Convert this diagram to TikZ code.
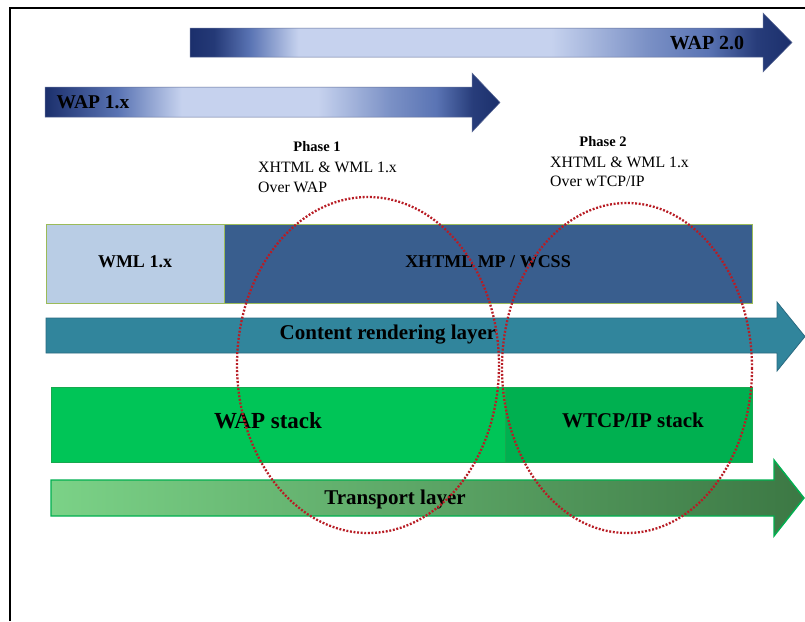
\documentclass[tikz,border=0pt]{standalone}
\usepackage{fontspec}
\setmainfont{Liberation Serif}
\usetikzlibrary{calc}

\definecolor{wapdark}{HTML}{1B2F6C}
\definecolor{wapmid}{HTML}{5A74B4}
\definecolor{waplite}{HTML}{C6D2EE}
\definecolor{wmlfill}{HTML}{B9CDE5}
\definecolor{xhtmlfill}{HTML}{395E8E}
\definecolor{boxedge}{HTML}{9BBB59}
\definecolor{contentfill}{HTML}{31859C}
\definecolor{contentedge}{HTML}{2A6A80}
\definecolor{wapgreen}{HTML}{00C557}
\definecolor{tcpgreen}{HTML}{00B050}
\definecolor{greenedge}{HTML}{17A94E}
\definecolor{translite}{HTML}{7BD287}
\definecolor{transdark}{HTML}{3C7844}
\definecolor{ringred}{HTML}{B81C24}

% horizontal bands: the path spans 25bp..75bp of each shading
\pgfdeclarehorizontalshading{wapTwoBand}{100bp}{%
  color(0bp)=(wapdark); color(25bp)=(wapdark); color(27bp)=(wapdark!85!wapmid);
  color(30bp)=(wapmid); color(34bp)=(waplite); color(55bp)=(waplite); color(63bp)=(wapmid!70!waplite);
  color(68bp)=(wapmid); color(72bp)=(wapdark!80!wapmid); color(75bp)=(wapdark); color(100bp)=(wapdark)}
\pgfdeclarehorizontalshading{wapOneBand}{100bp}{%
  color(0bp)=(wapdark); color(25bp)=(wapdark); color(33bp)=(wapmid);
  color(40bp)=(waplite); color(55bp)=(waplite); color(63bp)=(wapmid!70!waplite);
  color(68bp)=(wapmid); color(72bp)=(wapdark!80!wapmid); color(75bp)=(wapdark); color(100bp)=(wapdark)}

\tikzset{
  x=1pt, y=-1pt,
  frameline/.style={line width=2.4pt, black},
  layerbox/.style={draw=boxedge, line width=0.9pt},
  stackbox/.style={draw=greenedge, line width=0.9pt},
  ring/.style={draw=ringred, line width=2.3pt, dash pattern=on 1.9pt off 1.7pt},
  bigtext/.style={font=\bfseries\fontsize{21}{24}\selectfont, inner sep=0pt},
  midtext/.style={font=\bfseries\fontsize{18}{21}\selectfont, inner sep=0pt},
  phasehead/.style={font=\bfseries\fontsize{14.5}{17}\selectfont, inner sep=0pt},
  phasebody/.style={font=\fontsize{15.8}{19.5}\selectfont, inner sep=0pt, anchor=west},
}

% block arrow: #1 style, #2 left x, #3 body top, #4 body bottom, #5 head base x,
% #6 head top, #7 head bottom, #8 tip x
\newcommand{\blockarrow}[8]{%
  \path[#1] (#2,#3) -- (#5,#3) -- (#5,#6) -- (#8,{(#6+#7)/2}) -- (#5,#7)
    -- (#5,#4) -- (#2,#4) -- cycle;}

\begin{document}
\begin{tikzpicture}
\useasboundingbox (0,0) rectangle (805,621);
\fill[white] (0,0) rectangle (805,621);

% outer frame (top and left edges)
\draw[frameline] (10,621) -- (10,8) -- (805,8);

% release arrows
\blockarrow{shading=wapTwoBand, draw=wapdark!70, line width=0.5pt}{190}{28}{57}{763}{13}{72}{792}
\node[font=\bfseries\fontsize{20}{24}\selectfont, inner sep=0pt] (wap2) at (707,43) {WAP 2.0};

\blockarrow{shading=wapOneBand, draw=wapdark!70, line width=0.5pt}{45}{87}{117}{472}{73}{132}{500}
\node[font=\bfseries\fontsize{19.5}{24}\selectfont, inner sep=0pt] (wap1) at (93,102) {WAP 1.x};

% phase captions
\node[phasehead] (ph1) at (317,147) {Phase 1};
\node[phasebody] (ph1a) at (258,167) {XHTML \& WML 1.x};
\node[phasebody] (ph1b) at (258,187) {Over WAP};

\node[phasehead] (ph2) at (603,142) {Phase 2};
\node[phasebody] (ph2a) at (550,162) {XHTML \& WML 1.x};
\node[phasebody] (ph2b) at (550,181) {Over wTCP/IP};

% content layer
\path[layerbox, fill=wmlfill] (46,224) rectangle (224,303);
\path[layerbox, fill=xhtmlfill] (224,224) rectangle (752,303);
\node[midtext] (wml) at (135,262) {WML 1.x};
\node[midtext] (xhtml) at (488,262) {XHTML MP / WCSS};

\blockarrow{fill=contentfill, draw=contentedge, line width=0.8pt}{46}{318}{353}{777}{302}{371}{805}
\node[bigtext] (content) at (388,335) {Content rendering layer};

% protocol stacks
\path[stackbox, fill=wapgreen] (51,387) rectangle (505,462);
\path[stackbox, fill=tcpgreen] (505,387) rectangle (752,462);
\node[font=\bfseries\fontsize{23}{27}\selectfont, inner sep=0pt] (wapstack) at (268,421) {WAP stack};
\node[bigtext] (tcpstack) at (633,420) {WTCP/IP stack};

\blockarrow{left color=translite, right color=transdark, draw=tcpgreen, line width=1.4pt}{51}{480}{516}{774}{460}{536}{804}
\node[bigtext] (transport) at (395,499) {Transport layer};

% migration phases
\draw[ring] (368,365) ellipse [x radius=131, y radius=168];
\draw[ring] (627,368) ellipse [x radius=125, y radius=165];
\end{tikzpicture}
\end{document}
